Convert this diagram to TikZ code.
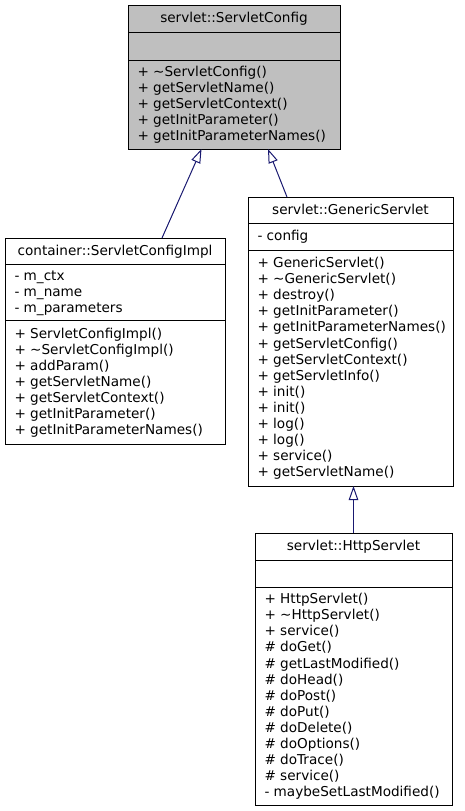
\documentclass[tikz,border=0pt]{standalone}
\usepackage{fontspec}
\setmainfont{DejaVu Sans}
\usetikzlibrary{arrows.meta}
\definecolor{umlgray}{HTML}{BFBFBF}
\definecolor{umlnavy}{HTML}{191970}
\tikzset{
  umlbox/.style={draw=black, line width=1pt, inner sep=0pt, outer sep=0pt, anchor=north west},
  divider/.style={draw=black, line width=1pt},
  rowtext/.style={anchor=base west, inner sep=0pt, outer sep=0pt, font=\fontsize{13.6pt}{16.1pt}\selectfont},
  headtext/.style={anchor=base, inner sep=0pt, outer sep=0pt, font=\fontsize{13.6pt}{16.1pt}\selectfont},
  inherit/.style={draw=umlnavy, line width=1pt, -{Triangle[length=14pt, width=9.5pt, fill=white]}}
}
% name, x, section centre, number of rows, list of rows
\newcommand\umlrows[5]{%
  \foreach \txt [count=\k] in {#5} {%
    \node[rowtext] (#1-\k) at (#2, {#3 + 4.2 - (#4-1)*8.05 + (\k-1)*16.1}) {\txt};
  }%
}
\begin{document}
\begin{tikzpicture}[x=1pt, y=-1pt]
\useasboundingbox (0,0) rectangle (464,811);

% ---------- boxes ----------
\node[umlbox, fill=umlgray, minimum width=212pt, minimum height=144pt] (sc) at (128,5) {};
\node[umlbox, fill=white, minimum width=220pt, minimum height=206.5pt] (sci) at (5,238) {};
\node[umlbox, fill=white, minimum width=205pt, minimum height=289pt] (gs) at (248,197) {};
\node[umlbox, fill=white, minimum width=197pt, minimum height=272pt] (hs) at (255,533) {};

% ---------- dividers ----------
\draw[divider] ([yshift=-27pt]sc.north west) -- ([yshift=-27pt]sc.north east);
\draw[divider] ([yshift=-55pt]sc.north west) -- ([yshift=-55pt]sc.north east);
\draw[divider] ([yshift=-26pt]sci.north west) -- ([yshift=-26pt]sci.north east);
\draw[divider] ([yshift=-82pt]sci.north west) -- ([yshift=-82pt]sci.north east);
\draw[divider] ([yshift=-26pt]gs.north west) -- ([yshift=-26pt]gs.north east);
\draw[divider] ([yshift=-53pt]gs.north west) -- ([yshift=-53pt]gs.north east);
\draw[divider] ([yshift=-27pt]hs.north west) -- ([yshift=-27pt]hs.north east);
\draw[divider] ([yshift=-54pt]hs.north west) -- ([yshift=-54pt]hs.north east);

% ---------- titles ----------
\node[headtext] (sc-title) at (234, 22.7) {servlet::ServletConfig};
\node[headtext] (sci-title) at (115, 255.2) {container::ServletConfigImpl};
\node[headtext] (gs-title) at (350.5, 214.2) {servlet::GenericServlet};
\node[headtext] (hs-title) at (353.5, 550.7) {servlet::HttpServlet};

% ---------- members ----------
\umlrows{sc-m}{137.5}{104.5}{5}{%
+ \textasciitilde ServletConfig(),%
+ getServletName(),%
+ getServletContext(),%
+ getInitParameter(),%
+ getInitParameterNames()}

\umlrows{sci-a}{14.5}{292}{3}{%
- m\_ctx,%
- m\_name,%
- m\_parameters}
\umlrows{sci-m}{14.5}{382.25}{7}{%
+ ServletConfigImpl(),%
+ \textasciitilde ServletConfigImpl(),%
+ addParam(),%
+ getServletName(),%
+ getServletContext(),%
+ getInitParameter(),%
+ getInitParameterNames()}

\umlrows{gs-a}{257.5}{236.5}{1}{%
- config}
\umlrows{gs-m}{257.5}{368}{14}{%
+ GenericServlet(),%
+ \textasciitilde GenericServlet(),%
+ destroy(),%
+ getInitParameter(),%
+ getInitParameterNames(),%
+ getServletConfig(),%
+ getServletContext(),%
+ getServletInfo(),%
+ init(),%
+ init(),%
+ log(),%
+ log(),%
+ service(),%
+ getServletName()}

\umlrows{hs-m}{264.5}{696}{13}{%
+ HttpServlet(),%
+ \textasciitilde HttpServlet(),%
+ service(),%
\# doGet(),%
\# getLastModified(),%
\# doHead(),%
\# doPost(),%
\# doPut(),%
\# doDelete(),%
\# doOptions(),%
\# doTrace(),%
\# service(),%
- maybeSetLastModified()}

% ---------- inheritance ----------
\draw[inherit] ([xshift=157pt]sci.north west) -- ([xshift=73.5pt]sc.south west);
\draw[inherit] ([xshift=39pt]gs.north west) -- ([xshift=140pt]sc.south west);
\draw[inherit] ([xshift=98.5pt]hs.north west) -- ([xshift=105.5pt]gs.south west);
\end{tikzpicture}
\end{document}
